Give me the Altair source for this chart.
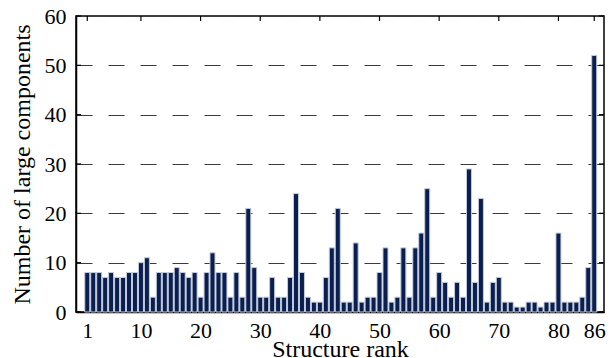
import altair as alt
import pandas as pd

ranks = list(range(1, 87))
values = [8, 8, 8, 7, 8, 7, 7, 8, 8, 10,
          11, 3, 8, 8, 8, 9, 8, 7, 8, 3,
          8, 12, 8, 8, 3, 8, 3, 21, 9, 3,
          3, 7, 3, 3, 7, 24, 8, 3, 2, 2,
          7, 13, 21, 2, 2, 14, 2, 3, 3, 8,
          13, 2, 3, 13, 3, 13, 16, 25, 3, 8,
          6, 3, 6, 3, 29, 6, 23, 2, 6, 7,
          2, 2, 1, 1, 2, 2, 1, 2, 2, 16,
          2, 2, 2, 3, 9, 52]
x_ticks = [1, 10, 20, 30, 40, 50, 60, 70, 80, 86]
y_ticks = [0, 10, 20, 30, 40, 50, 60]

W, H = 528, 296
FONT = "Liberation Serif, Times New Roman, serif"

df = pd.DataFrame({"rank": ranks, "count": values})
xt = pd.DataFrame({"t": x_ticks})
yt = pd.DataFrame({"t": y_ticks})

xscale = alt.Scale(domain=[-0.05, 86.8], nice=False, zero=False)
yscale = alt.Scale(domain=[0, 60], nice=False)

bars = alt.Chart(df).mark_bar(
    size=5, color="#0a1f4f", stroke="#c3cbdb", strokeWidth=1
).encode(
    x=alt.X("rank:Q", scale=xscale,
            axis=alt.Axis(values=x_ticks, title="Structure rank", grid=False,
                          ticks=False, labelFont=FONT, titleFont=FONT,
                          labelFontSize=22, labelPadding=8,
                          labelColor="black", titleFontSize=24,
                          titleFontWeight="normal", titleColor="black",
                          titleY=25, titleBaseline="top",
                          domainColor="black", domainWidth=1.5,
                          labelFlush=False)),
    y=alt.Y("count:Q", scale=yscale,
            axis=alt.Axis(values=y_ticks, title="Number of large components",
                          grid=True, gridDash=[16, 16], gridColor="#3a3a3a",
                          gridWidth=1.2, ticks=False, labelFont=FONT,
                          titleFont=FONT, labelFontSize=22,
                          labelPadding=10, labelColor="black",
                          titleFontSize=24, titleFontWeight="normal",
                          titleColor="black", titleX=-47, titleY=H / 2,
                          titleAngle=270, titleAlign="center",
                          titleBaseline="alphabetic",
                          domainColor="black", domainWidth=1.5,
                          labelFlush=False)),
)

left_ticks = alt.Chart(yt).mark_rule(color="black", strokeWidth=1.2).encode(
    y=alt.Y("t:Q", scale=yscale), x=alt.value(0), x2=alt.value(5))
right_ticks = alt.Chart(yt).mark_rule(color="black", strokeWidth=1.2).encode(
    y=alt.Y("t:Q", scale=yscale), x=alt.value(W - 5), x2=alt.value(W))
top_ticks = alt.Chart(xt).mark_rule(color="black", strokeWidth=1.2).encode(
    x=alt.X("t:Q", scale=xscale), y=alt.value(0), y2=alt.value(5))

chart = alt.layer(bars, left_ticks, right_ticks, top_ticks).properties(
    width=W, height=H,
    autosize=alt.AutoSizeParams(type="none"),
    padding={"left": 76, "top": 16, "right": 8, "bottom": 46},
).configure(font=FONT).configure_view(
    stroke="black", strokeWidth=1.5
)

chart.save("out.html", embed_options={"renderer": "svg", "actions": False})
